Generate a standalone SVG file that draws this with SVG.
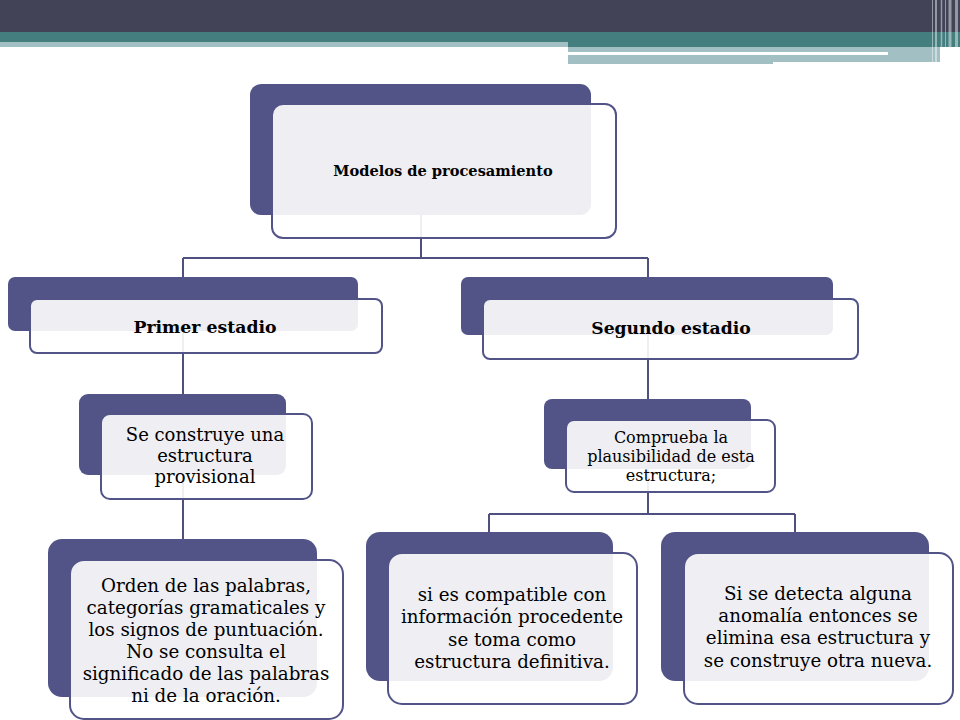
<svg xmlns="http://www.w3.org/2000/svg" width="960" height="720" viewBox="0 0 960 720">
<style>
.back{fill:#525488;}
.front{fill:#ffffff;fill-opacity:0.9;stroke:#525488;stroke-width:2;}
.conn{fill:none;stroke:#4f5080;stroke-width:2;}
.t{font-family:"DejaVu Serif","Liberation Serif",serif;fill:#000000;text-anchor:middle;}
.b{font-weight:bold;}
.strp{stroke:#ffffff;stroke-opacity:0.45;}
</style>
<rect x="0" y="0" width="960" height="720" fill="#ffffff"/>
<g id="banner">
<rect x="0" y="0" width="960" height="32" fill="#434358"/>
<rect x="0" y="32" width="960" height="10" fill="#447e7f"/>
<rect x="0" y="42" width="568" height="5" fill="#a2bfc3"/>
<rect x="568" y="42" width="392" height="5" fill="#447e7f"/>
<rect x="568" y="47" width="372" height="5" fill="#a2bfc3"/>
<rect x="888" y="52" width="52" height="3" fill="#a2bfc3"/>
<rect x="568" y="55" width="205" height="9" fill="#a2bfc3"/>
<rect x="773" y="55" width="167" height="7" fill="#a2bfc3"/>
<g class="strp">
<line x1="932.5" y1="0" x2="932.5" y2="64" stroke-width="1"/>
<line x1="936" y1="0" x2="936" y2="64" stroke-width="2"/>
<line x1="941.5" y1="0" x2="941.5" y2="64" stroke-width="1.5"/>
<line x1="945.5" y1="0" x2="945.5" y2="64" stroke-width="1"/>
<line x1="950" y1="0" x2="950" y2="64" stroke-width="3"/>
<line x1="956.5" y1="0" x2="956.5" y2="64" stroke-width="3"/>
</g>
</g>
<g id="connectors">
<path class="conn" d="M421 200 V258 M183 258 H648 M183 258 V320 M648 258 V320"/>
<path class="conn" d="M183 330 V460"/>
<path class="conn" d="M183 460 V600"/>
<path class="conn" d="M648 330 V460"/>
<path class="conn" d="M648 460 V514 M489 514 H795 M489 514 V600 M795 514 V600"/>
</g>
<g id="n-modelos">
<rect class="back" x="250" y="84" width="341" height="131" rx="11"/>
<rect class="front" x="272" y="104" width="344" height="134" rx="11"/>
<text class="t b" x="443" y="176" font-size="14.6">Modelos de procesamiento</text>
</g>
<g id="n-primer">
<rect class="back" x="8" y="277" width="350" height="54" rx="7"/>
<rect class="front" x="30" y="299" width="352" height="54" rx="7"/>
<text class="t b" x="205" y="333" font-size="17.3">Primer estadio</text>
</g>
<g id="n-segundo">
<rect class="back" x="461" y="277" width="372" height="58" rx="7"/>
<rect class="front" x="483" y="299" width="375" height="60" rx="7"/>
<text class="t b" x="671" y="334" font-size="17.2">Segundo estadio</text>
</g>
<g id="n-construye">
<rect class="back" x="79" y="394" width="207" height="81" rx="9"/>
<rect class="front" x="101" y="414" width="211" height="85" rx="9"/>
<text class="t" x="205" y="441" font-size="18">Se construye  una</text>
<text class="t" x="205" y="462" font-size="18">estructura</text>
<text class="t" x="205" y="483" font-size="18">provisional</text>
</g>
<g id="n-comprueba">
<rect class="back" x="544" y="399" width="207" height="70" rx="8"/>
<rect class="front" x="566" y="420" width="209" height="72" rx="8"/>
<text class="t" x="671" y="443" font-size="16">Comprueba la</text>
<text class="t" x="671" y="462" font-size="16">plausibilidad  de esta</text>
<text class="t" x="671" y="481" font-size="16">estructura;</text>
</g>
<g id="n-orden">
<rect class="back" x="48" y="539" width="269" height="158" rx="14"/>
<rect class="front" x="70" y="560" width="273" height="159" rx="14"/>
<text class="t" x="206" y="592" font-size="18.3">Orden de las palabras,</text>
<text class="t" x="206" y="614" font-size="18.3">categorías gramaticales y</text>
<text class="t" x="206" y="636" font-size="18.3">los signos de puntuación.</text>
<text class="t" x="206" y="658" font-size="18.3">No se consulta el</text>
<text class="t" x="206" y="680" font-size="18.3">significado de las palabras</text>
<text class="t" x="206" y="702" font-size="18.3">ni de la oración.</text>
</g>
<g id="n-compatible">
<rect class="back" x="366" y="532" width="247" height="149" rx="14"/>
<rect class="front" x="388" y="553" width="249" height="151" rx="14"/>
<text class="t" x="512" y="601" font-size="18.3">si es compatible con</text>
<text class="t" x="512" y="623" font-size="18.3">información procedente</text>
<text class="t" x="512" y="646" font-size="18.3">se toma como</text>
<text class="t" x="512" y="668" font-size="18.3">estructura definitiva.</text>
</g>
<g id="n-anomalia">
<rect class="back" x="661" y="532" width="268" height="149" rx="14"/>
<rect class="front" x="684" y="553" width="269" height="151" rx="14"/>
<text class="t" x="818" y="600" font-size="18.3">Si se detecta alguna</text>
<text class="t" x="818" y="622" font-size="18.3">anomalía entonces se</text>
<text class="t" x="818" y="644" font-size="18.3">elimina esa estructura y</text>
<text class="t" x="818" y="667" font-size="18.3">se construye otra nueva.</text>
</g>
</svg>
